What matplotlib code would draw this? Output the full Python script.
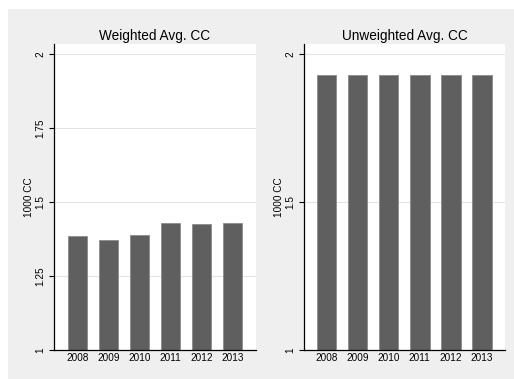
import matplotlib
matplotlib.use("Agg")
import matplotlib.pyplot as plt
from matplotlib.patches import Rectangle

plt.rcParams['font.family'] = ['Liberation Sans', 'DejaVu Sans']

years = ["2008", "2009", "2010", "2011", "2012", "2013"]
weighted_cc = [1.385, 1.373, 1.387, 1.428, 1.425, 1.429]
unweighted_cc = [1.929, 1.929, 1.929, 1.929, 1.929, 1.929]
weighted_ticks = [1, 1.25, 1.5, 1.75, 2]
unweighted_ticks = [1, 1.5, 2]
titles = ["Weighted Avg. CC", "Unweighted Avg. CC"]
ylabel = "1000 CC"

W, H = 514, 379
fig = plt.figure(figsize=(W / 100, H / 100), dpi=100)
fig.patch.set_facecolor("white")
fig.patches.append(Rectangle((8 / W, 0), 1 - 8 / W, 1 - 9 / H,
                             transform=fig.transFigure, facecolor="#efefef",
                             edgecolor="none", zorder=-10))

bar_color = "#5f5f5f"
edge_color = "#8c8c8c"


def panel(rect, values, ticks, title, xlim):
    ax = fig.add_axes(rect)
    ax.set_facecolor("white")
    x = list(range(len(years)))
    ax.bar(x, values, width=0.63, bottom=0, color=bar_color,
           edgecolor=edge_color, linewidth=0.6, zorder=3)
    ax.set_ylim(1, 1 + (350 - 44) / 296)
    ax.set_xlim(*xlim)
    ax.set_yticks(ticks)
    ax.set_yticklabels([f"{t:g}" for t in ticks], rotation=90, va="center",
                       fontsize=7.2)
    ax.set_xticks(x)
    ax.set_xticklabels(years, fontsize=7.2)
    ax.tick_params(axis="x", length=0, pad=2.5)
    ax.tick_params(axis="y", length=3.5, width=0.8, pad=2.5)
    for t in ticks:
        if t > 1:
            ax.axhline(t, color="#e3e3e3", linewidth=0.8, zorder=1)
    for s in ("top", "right"):
        ax.spines[s].set_visible(False)
    for s in ("left", "bottom"):
        ax.spines[s].set_linewidth(0.9)
        ax.spines[s].set_zorder(5)
    ax.set_title(title, fontsize=9.8, pad=3)
    ax.set_ylabel(ylabel, fontsize=7.2, labelpad=1)
    return ax


ax_h = 1 - 44 / H - (1 - 350 / H)
panel([54 / W, 1 - 350 / H, (256 - 54) / W, ax_h], weighted_cc,
      weighted_ticks, titles[0], (-0.76, 5.76))
panel([304 / W, 1 - 350 / H, (505 - 304) / W, ax_h], unweighted_cc,
      unweighted_ticks, titles[1], (-0.72, 5.74))

fig.savefig("out.png", dpi=100, facecolor=fig.get_facecolor())
